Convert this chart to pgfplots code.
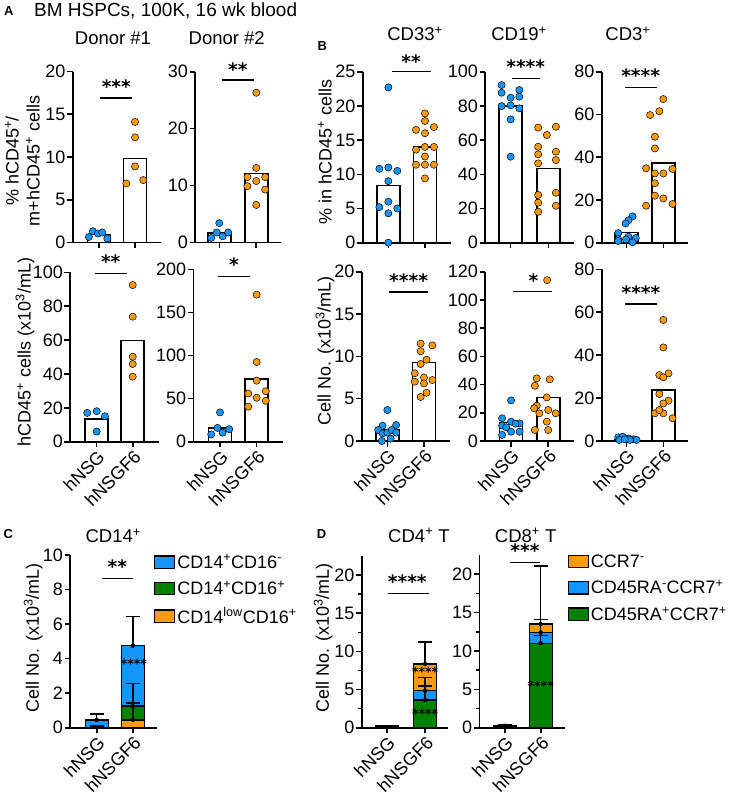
\documentclass[border=0pt]{standalone}
\usepackage{fontspec}
\setmainfont{Liberation Sans}
\newfontfamily\starfont{DejaVu Sans}
\usepackage{pgfplots}
\pgfplotsset{compat=1.18}
\definecolor{cblue}{RGB}{20,150,255}
\definecolor{corange}{RGB}{255,155,10}
\definecolor{cgreen}{RGB}{0,130,0}
\newcommand\fs{\fontsize{18}{21}\selectfont}
\tikzset{
 sig/.style={line width=1.5pt},
 stars/.style={font=\starfont\bfseries\fontsize{18.5}{18.5}\selectfont, inner sep=0pt},
 istars/.style={font=\starfont\bfseries\fontsize{12.5}{12.5}\selectfont, inner sep=0pt},
}
\pgfplotsset{
 panel/.style={scale only axis, anchor=south west, axis lines=left,
   axis line style={-, line width=1.6pt, black},
   tick style={black, line width=1.6pt}, major tick length=5.5pt, minor tick length=3.5pt,
   tick align=outside, ymin=0, clip=false, xtick={0,1}, xticklabels={},
   tick label style={font=\fs, black},
   /pgf/number format/assume math mode=true,
   yticklabel style={inner sep=1.5pt},
 },
 xlab/.style={xticklabels={hNSG,hNSGF6}, xticklabel style={rotate=45, anchor=north east, inner sep=1pt}},
 dots/.style={only marks, mark=*, mark size=3.6pt, mark options={draw=black, line width=0.5pt, fill=#1}},
 mbar/.style={ybar, bar shift=0pt, bar width=23pt, fill=white, draw=black, line width=1.5pt},
 sbar/.style={ybar, bar shift=0pt, bar width=23pt, fill=#1, draw=black, line width=1.3pt, forget plot},
 errb/.style={forget plot, only marks, mark=none, error bars/.cd, y dir=plus, y explicit,
   error bar style={black, line width=1.5pt},
   error mark options={rotate=90, black, line width=1.5pt, mark size=7pt}},
 leg/.style={legend cell align=left,
   legend style={draw=none, fill=none, at={#1}, anchor=north west, font=\fs, row sep=7.5pt, inner sep=0pt}},
}
\begin{document}
\begin{tikzpicture}
\path[use as bounding box] (0pt,0pt) rectangle (733pt,-801pt);
% ---------- titles and labels
\node[anchor=base west, inner sep=0pt, font=\bfseries\fontsize{13}{13}\selectfont] at (4pt,-15pt) {A};
\node[anchor=base west, inner sep=0pt, font=\fontsize{19}{21}\selectfont] at (34pt,-16.7pt) {BM HSPCs, 100K, 16 wk blood};
\node[anchor=base, inner sep=0pt, font=\fontsize{18.5}{21}\selectfont] at (113pt,-44pt) {Donor \#1};
\node[anchor=base, inner sep=0pt, font=\fontsize{18.5}{21}\selectfont] at (226.7pt,-44pt) {Donor \#2};
\node[anchor=base west, inner sep=0pt, font=\bfseries\fontsize{13}{13}\selectfont] at (317.3pt,-50pt) {B};
\node[anchor=base, inner sep=0pt, font=\fontsize{18.5}{21}\selectfont] at (415pt,-40.7pt) {CD33\textsuperscript{+}};
\node[anchor=base, inner sep=0pt, font=\fontsize{18.5}{21}\selectfont] at (519pt,-40.7pt) {CD19\textsuperscript{+}};
\node[anchor=base, inner sep=0pt, font=\fontsize{18.5}{21}\selectfont] at (628pt,-40.7pt) {CD3\textsuperscript{+}};
\node[anchor=base west, inner sep=0pt, font=\bfseries\fontsize{13}{13}\selectfont] at (3.3pt,-538.3pt) {C};
\node[anchor=base, inner sep=0pt, font=\fontsize{18.5}{21}\selectfont] at (113.3pt,-542.7pt) {CD14\textsuperscript{+}};
\node[anchor=base west, inner sep=0pt, font=\bfseries\fontsize{13}{13}\selectfont] at (316.7pt,-538.3pt) {D};
\node[anchor=base, inner sep=0pt, font=\fontsize{18.5}{21}\selectfont] at (419pt,-542pt) {CD4\textsuperscript{+} T};
\node[anchor=base, inner sep=0pt, font=\fontsize{18.5}{21}\selectfont] at (525.7pt,-542pt) {CD8\textsuperscript{+} T};
% y labels
\node[rotate=90, align=center, inner sep=0pt, font=\fontsize{18}{21}\selectfont] at (22.5pt,-161pt) {\% hCD45\textsuperscript{+}/\\m+hCD45\textsuperscript{+} cells};
\node[rotate=90, inner sep=0pt, font=\fs] at (25pt,-352pt) {hCD45\textsuperscript{+} cells (x10\textsuperscript{3}/mL)};
\node[rotate=90, inner sep=0pt, font=\fs] at (325pt,-152pt) {\% in hCD45\textsuperscript{+} cells};
\node[rotate=90, inner sep=0pt, font=\fs] at (325pt,-351pt) {Cell No. (x10\textsuperscript{3}/mL)};
\node[rotate=90, inner sep=0pt, font=\fs] at (33.3pt,-638pt) {Cell No. (x10\textsuperscript{3}/mL)};
\node[rotate=90, inner sep=0pt, font=\fs] at (323.3pt,-638pt) {Cell No. (x10\textsuperscript{3}/mL)};

% ---------- A top left
\begin{axis}[panel, at={(72.7pt,-242.5pt)}, width=88.6pt, height=171pt, xmin=-0.73, xmax=1.73, ymax=20, ytick={0,5,10,15,20}]
\addplot[mbar] coordinates {(0,0.93) (1,9.8)};
\addplot[dots=cblue] coordinates {(-0.28,0.65) (-0.17,1.32) (-0.03,1.05) (0.09,1.17) (0.23,0.47)};
\addplot[dots=corange] coordinates {(1,14.1) (1,12.3) (1,8.9) (0.76,6.9) (1.23,7.3)};
\draw[sig] (axis cs:0.02,16.9) -- (axis cs:0.93,16.9);
\node[stars] at (axis cs:0.48,18.2) {***};
\end{axis}
% ---------- A top right
\begin{axis}[panel, at={(195pt,-242.5pt)}, width=85.6pt, height=170.8pt, xmin=-0.657, xmax=1.657, ymax=30, ytick={0,10,20,30}]
\addplot[mbar] coordinates {(0,1.7) (1,12.1)};
\addplot[dots=cblue] coordinates {(-0.22,0.8) (-0.07,1.75) (0,3.4) (0.09,1.1) (0.24,1.75)};
\addplot[dots=corange] coordinates {(1,26.3) (1,13.1) (0.76,11.5) (1.24,11.5) (1,10.8) (0.76,9.9) (1.24,9.3) (1,6.6)};
\draw[sig] (axis cs:0.06,28.5) -- (axis cs:0.94,28.5);
\node[stars] at (axis cs:0.5,30.3) {**};
\end{axis}
% ---------- A bottom left
\begin{axis}[panel, xlab, at={(70pt,-441.7pt)}, width=89.4pt, height=169.4pt, xmin=-0.74, xmax=1.74, ymax=100, ytick={0,20,...,100}]
\addplot[mbar] coordinates {(0,13.4) (1,59.8)};
\addplot[dots=cblue] coordinates {(-0.26,17) (0,18) (0.23,15) (0,6)};
\addplot[dots=corange] coordinates {(1,92.5) (1,73.8) (1,50.2) (1,45.9) (1,38.4)};
\draw[sig] (axis cs:-0.05,99.4) -- (axis cs:0.83,99.4);
\node[stars] at (axis cs:0.39,106.3) {**};
\end{axis}
% ---------- A bottom right
\begin{axis}[panel, xlab, at={(193.3pt,-441.7pt)}, width=90.1pt, height=172.4pt, xmin=-0.73, xmax=1.73, ymax=200, ytick={0,50,...,200}]
\addplot[mbar] coordinates {(0,16) (1,73)};
\addplot[dots=cblue] coordinates {(-0.24,8.5) (-0.07,16) (0.07,10.5) (0.25,14.5) (0,34)};
\addplot[dots=corange] coordinates {(1,170.6) (1,92.5) (1,70.8) (0.77,56) (1.25,58.5) (1,51) (0.77,40.6) (1.25,47.5)};
\draw[sig] (axis cs:-0.05,191.4) -- (axis cs:0.82,191.4);
\node[stars] at (axis cs:0.38,205) {*};
\end{axis}
% ---------- B top CD33
\begin{axis}[panel, at={(362.7pt,-242.7pt)}, width=87.9pt, height=171pt, xmin=-0.70, xmax=1.70, ymax=25, ytick={0,5,...,25}]
\addplot[mbar] coordinates {(0,8.35) (1,14.0)};
\addplot[dots=cblue] coordinates {(0,22.7) (-0.245,10.8) (0,11.0) (0.245,10.5) (0,9.0) (0,6.0) (-0.245,5.2) (0.245,5.0) (0,4.3) (0,0)};
\addplot[dots=corange] coordinates {(1,18.9) (1,17.8) (0.755,16.5) (1.245,16.9) (1,16.0) (0.755,13.6) (1.245,14.0) (1,14.0) (1,12.6) (0.755,11.4) (1,11.4) (1.245,11.4) (1,9.4)};
\draw[sig] (axis cs:0.09,25) -- (axis cs:1.16,25);
\node[stars] at (axis cs:0.62,26.5) {**};
\end{axis}
% ---------- B top CD19
\begin{axis}[panel, at={(485pt,-242.7pt)}, width=89pt, height=171pt, xmin=-0.68, xmax=1.68, ymax=100, ytick={0,20,...,100}]
\addplot[mbar] coordinates {(0,80) (1,43.5)};
\addplot[dots=cblue] coordinates {(-0.24,92.2) (-0.24,87.7) (0.23,89.3) (0,84.8) (0.23,85.4) (-0.24,79.9) (0,80.3) (0.23,78.6) (0,72.1) (0,50.3)};
\addplot[dots=corange] coordinates {(0.73,67.3) (1.2,67.8) (0.96,63) (0.73,56.1) (1.2,53.2) (0.73,51.7) (1.2,48.3) (0.73,46.4) (0.73,27.9) (1.2,29.2) (0.73,23.4) (1.2,21.6) (0.73,18.1)};
\draw[sig] (axis cs:0.03,96.1) -- (axis cs:0.78,96.1);
\node[stars] at (axis cs:0.4,102.9) {****};
\end{axis}
% ---------- B top CD3
\begin{axis}[panel, at={(601.7pt,-242.7pt)}, width=86.6pt, height=171pt, xmin=-0.68, xmax=1.68, ymax=80, ytick={0,20,...,80}]
\addplot[mbar] coordinates {(0,4.7) (1,37.4)};
\addplot[dots=cblue] coordinates {(0.16,12.3) (0.05,10.5) (-0.03,9.0) (-0.23,4.5) (0.05,2.8) (-0.23,1.6) (-0.02,1.5) (0.25,2.2) (0.16,0.2) (-0.23,0.8)};
\addplot[dots=corange] coordinates {(1,67.2) (0.89,61.5) (0.64,59.7) (0.77,49.6) (0.77,44.1) (0.53,34.8) (1.25,34.5) (0.77,32.4) (1,32.4) (0.77,27.8) (0.77,22.0) (1,20.7) (0.53,17.3) (1.25,18.1)};
\draw[sig] (axis cs:-0.05,72.7) -- (axis cs:0.82,72.7);
\node[stars] at (axis cs:0.38,78) {****};
\end{axis}
% ---------- B bottom CD33
\begin{axis}[panel, xlab, at={(361.7pt,-441pt)}, width=87.9pt, height=169.3pt, xmin=-0.70, xmax=1.70, ymax=20, ytick={0,5,...,20}]
\addplot[mbar] coordinates {(0,1.3) (1,9.25)};
\addplot[dots=cblue] coordinates {(0,3.66) (-0.13,1.81) (-0.25,1.3) (-0.13,0.9) (0.24,1.89) (0,1.0) (0.09,0.28) (-0.15,0) (0.12,1.3) (0.24,1.0)};
\addplot[dots=corange] coordinates {(0.91,11.5) (1.23,11.3) (0.91,10.6) (1.07,9.6) (0.91,9.1) (0.75,8.0) (1,7.5) (0.75,7.0) (1.23,7.2) (1,6.8) (1.07,5.7) (0.91,5.2)};
\draw[sig] (axis cs:0.05,17.6) -- (axis cs:1.12,17.6);
\node[stars] at (axis cs:0.58,18.9) {****};
\end{axis}
% ---------- B bottom CD19
\begin{axis}[panel, xlab, at={(485pt,-441pt)}, width=89.3pt, height=169.3pt, xmin=-0.70, xmax=1.70, ymax=120, ytick={0,20,...,120}]
\addplot[mbar] coordinates {(0,13) (1,30.9)};
\addplot[dots=cblue] coordinates {(0,28.8) (-0.24,16.1) (0,13.7) (0.23,12.5) (-0.24,10.9) (0.12,12.3) (-0.13,9.7) (0.23,6.6) (0,6.6) (-0.24,4.3)};
\addplot[dots=corange] coordinates {(0.97,114) (0.69,44.4) (1.04,43.7) (0.64,39.2) (0.96,30.9) (0.69,25.0) (0.62,23.2) (1,22.0) (1.2,19.6) (0.76,19.6) (0.96,13.7) (0.64,7.8) (1,7.8)};
\draw[sig] (axis cs:0.06,105.8) -- (axis cs:1.1,105.8);
\node[stars] at (axis cs:0.6,113.6) {*};
\end{axis}
% ---------- B bottom CD3
\begin{axis}[panel, xlab, at={(601.7pt,-441pt)}, width=86.6pt, height=171.7pt, xmin=-0.68, xmax=1.68, ymax=80, ytick={0,20,...,80}]
\addplot[mbar] coordinates {(0,0.5) (1,23.8)};
\addplot[dots=cblue] coordinates {(-0.23,1.7) (-0.11,2.0) (0.05,1.2) (0.18,0.8) (0.27,0.5) (0.09,0.5) (-0.2,0.5) (-0.05,0.8)};
\addplot[dots=corange] coordinates {(1,56.4) (1,43.6) (1.14,31.5) (0.89,30.7) (1,29.7) (0.89,21.9) (1.14,18.8) (1,17.5) (0.77,12.9) (1,12.9) (1.25,10.6) (0.89,14.4)};
\draw[sig] (axis cs:-0.05,63.8) -- (axis cs:0.84,63.8);
\node[stars] at (axis cs:0.39,69.1) {****};
\end{axis}
% ---------- C
\begin{axis}[panel, xlab, at={(70pt,-727.7pt)}, width=87pt, height=172.7pt, xmin=-0.74, xmax=1.67, ymax=10, ytick={0,2,...,10},
  leg={(axis description cs:0.965,1.015)}]
\addplot[sbar=cblue] coordinates {(0,0.45) (1,4.75)};
\addplot[sbar=cgreen] coordinates {(1,1.25)};
\addplot[sbar=corange] coordinates {(1,0.45)};
\addplot[errb] coordinates {(0,0.45) +- (0,0.35) (0,0.02) +- (0,0.08) (1,4.75) +- (0,1.7) (1,1.25) +- (0,1.3) (1,0.45) +- (0,0.97)};
\node[istars] at (axis cs:1.03,3.68) {****};
\draw[sig] (axis cs:0.14,8.65) -- (axis cs:1.0,8.65);
\node[stars] at (axis cs:0.57,9.35) {**};
\addlegendimage{legend image code/.code={\draw[fill=cblue, line width=1.2pt] (0pt,-6.2pt) rectangle (20pt,6.2pt);}}
\addlegendentry{CD14\textsuperscript{+}CD16\textsuperscript{-}}
\addlegendimage{legend image code/.code={\draw[fill=cgreen, line width=1.2pt] (0pt,-6.2pt) rectangle (20pt,6.2pt);}}
\addlegendentry{CD14\textsuperscript{+}CD16\textsuperscript{+}}
\addlegendimage{legend image code/.code={\draw[fill=corange, line width=1.2pt] (0pt,-6.2pt) rectangle (20pt,6.2pt);}}
\addlegendentry{CD14\textsuperscript{low}CD16\textsuperscript{+}}
\end{axis}
% ---------- D CD4
\begin{axis}[panel, xlab, at={(361.7pt,-727.7pt)}, width=86.6pt, height=171.7pt, xmin=-0.67, xmax=1.61, ymax=22.5, ytick={0,5,...,20}, minor y tick num=1]
\addplot[sbar=corange] coordinates {(0,0.22) (1,8.34)};
\addplot[sbar=cblue] coordinates {(0,0.15) (1,4.85)};
\addplot[sbar=cgreen] coordinates {(0,0.1) (1,3.63)};
\addplot[errb] coordinates {(1,8.34) +- (0,2.92) (1,4.85) +- (0,1.75) (1,3.63) +- (0,1.83)};
\node[istars] at (axis cs:1,7.33) {****};
\node[istars] at (axis cs:1,1.75) {****};
\draw[sig] (axis cs:0.01,17.6) -- (axis cs:1.09,17.6);
\node[stars] at (axis cs:0.53,19.1) {****};
\end{axis}
% ---------- D CD8
\begin{axis}[panel, xlab, at={(479.3pt,-727.7pt)}, width=85.7pt, height=172.7pt, xmin=-0.72, xmax=1.68, ymax=22.5, ytick={0,5,...,20}, minor y tick num=1,
  leg={(axis description cs:1.03,1.015)}]
\addplot[sbar=corange] coordinates {(0,0.25) (1,13.5)};
\addplot[sbar=cblue] coordinates {(1,12.4)};
\addplot[sbar=cgreen] coordinates {(0,0.2) (1,11.0)};
\addplot[errb] coordinates {(0,0.25) +- (0,0.15) (1,13.5) +- (0,7.55) (1,12.4) +- (0,1.7) (1,11.0) +- (0,1.0)};
\node[istars] at (axis cs:1,5.47) {****};
\draw[sig] (axis cs:0.14,21.5) -- (axis cs:0.98,21.5);
\node[stars] at (axis cs:0.56,23.1) {***};
\addlegendimage{legend image code/.code={\draw[fill=corange, line width=1.2pt] (0pt,-6.2pt) rectangle (20pt,6.2pt);}}
\addlegendentry{CCR7\textsuperscript{-}}
\addlegendimage{legend image code/.code={\draw[fill=cblue, line width=1.2pt] (0pt,-6.2pt) rectangle (20pt,6.2pt);}}
\addlegendentry{CD45RA\textsuperscript{-}CCR7\textsuperscript{+}}
\addlegendimage{legend image code/.code={\draw[fill=cgreen, line width=1.2pt] (0pt,-6.2pt) rectangle (20pt,6.2pt);}}
\addlegendentry{CD45RA\textsuperscript{+}CCR7\textsuperscript{+}}
\end{axis}
\end{tikzpicture}
\end{document}
